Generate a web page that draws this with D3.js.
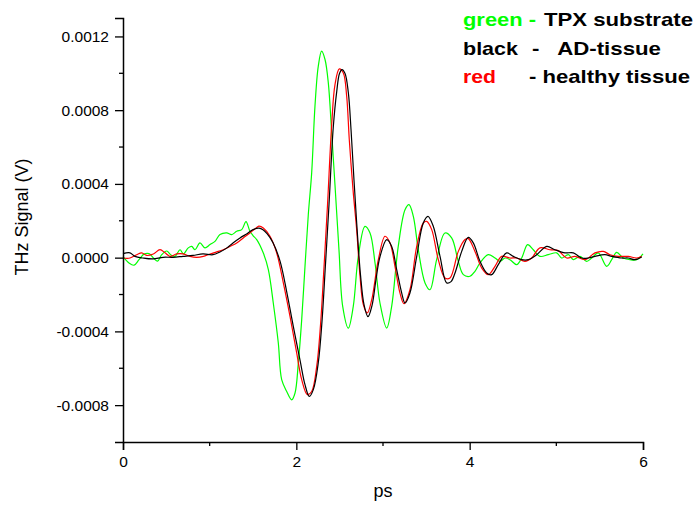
<!DOCTYPE html>
<html lang="en">
	<head>
		<meta charset="utf-8">
		<title>THz Signal - TPX, AD and healthy tissue</title>
		<script src="https://d3js.org/d3.v7.min.js"></script>
		<style type="text/css">
			body {
				margin: 0;
				background: #fff;
			}
			text {
				font-family: "Liberation Sans", Arial, sans-serif;
			}
		</style>
	</head>
	<body>
		<script type="text/javascript">
			//Data: [time (ps), signal (V)]
			var tpxSignal = [
				[0.000, 0.000005], [0.069, -0.000029], [0.127, -0.000041], [0.185, -0.000011], [0.242, 0.000019],
				[0.300, 0.000022], [0.358, -0.000005], [0.398, -0.000019], [0.447, 0.000016], [0.504, 0.000036],
				[0.554, 0.000014], [0.600, 0.000007], [0.658, 0.000043], [0.696, 0.000020], [0.753, 0.000053],
				[0.793, 0.000061], [0.831, 0.000043], [0.888, 0.000080], [0.946, 0.000053], [1.004, 0.000071],
				[1.061, 0.000088], [1.119, 0.000125], [1.196, 0.000134], [1.254, 0.000125], [1.312, 0.000143],
				[1.370, 0.000152], [1.419, 0.000195], [1.465, 0.000143], [1.500, 0.000120], [1.543, 0.000098],
				[1.619, 0.000025], [1.677, -0.000065], [1.734, -0.000246], [1.792, -0.000463],
				[1.831, -0.000662], [1.889, -0.000726], [1.946, -0.000771], [1.985, -0.000734], [2.023, -0.000571],
				[2.062, -0.000336], [2.100, -0.000047], [2.138, 0.000233], [2.177, 0.000460], [2.215, 0.000821],
				[2.253, 0.001038], [2.292, 0.001120], [2.331, 0.001075], [2.369, 0.000948], [2.408, 0.000677],
				[2.446, 0.000394], [2.492, 0.000043], [2.535, -0.000264], [2.600, -0.000382], [2.657, -0.000264],
				[2.715, 0.000007], [2.792, 0.000170], [2.850, 0.000134], [2.908, -0.000029], [2.965, -0.000246],
				[3.043, -0.000382], [3.100, -0.000264], [3.176, 0.000061], [3.254, 0.000260], [3.300, 0.000288],
				[3.350, 0.000224], [3.407, 0.000043], [3.485, -0.000137], [3.542, -0.000174], [3.619, -0.000011],
				[3.715, 0.000134], [3.792, 0.000107], [3.869, -0.000020], [3.927, -0.000092], [4.004, -0.000101],
				[4.061, -0.000074], [4.119, -0.000029], [4.215, 0.000016], [4.292, -0.000002], [4.350, -0.000020],
				[4.408, -0.000002], [4.465, -0.000011], [4.542, -0.000038], [4.600, -0.000002], [4.669, 0.000071],
				[4.734, 0.000043], [4.811, 0.000007], [4.907, 0.000016], [5.004, 0.000026], [5.061, -0.000002],
				[5.138, 0.000016], [5.196, -0.000011], [5.273, 0.000007], [5.350, -0.000020], [5.408, -0.000002],
				[5.484, 0.000026], [5.581, -0.000047], [5.639, -0.000011], [5.696, 0.000029], [5.773, -0.000002],
				[5.850, -0.000011], [5.927, -0.000011], [6.000, 0.000020]
			];

			var adSignal = [
				[0.000, 0.000022], [0.081, 0.000026], [0.138, 0.000007], [0.231, -0.000002], [0.346, -0.000007],
				[0.462, 0.000002], [0.577, 0.000002], [0.692, 0.000007], [0.808, 0.000012], [0.923, 0.000020],
				[1.038, 0.000016], [1.119, 0.000031], [1.200, 0.000053], [1.269, 0.000080], [1.350, 0.000107],
				[1.431, 0.000130], [1.500, 0.000152], [1.569, 0.000160], [1.615, 0.000152], [1.662, 0.000130],
				[1.731, 0.000081], [1.812, -0.000019], [1.889, -0.000185], [1.965, -0.000373], [2.042, -0.000554],
				[2.100, -0.000689], [2.150, -0.000753], [2.196, -0.000716], [2.253, -0.000571], [2.296, -0.000347],
				[2.336, -0.000038], [2.377, 0.000288], [2.426, 0.000706], [2.466, 0.000901], [2.498, 0.000999],
				[2.527, 0.001020], [2.562, 0.000999], [2.600, 0.000895], [2.631, 0.000695], [2.665, 0.000423],
				[2.700, 0.000163], [2.740, -0.000092], [2.781, -0.000255], [2.827, -0.000320], [2.873, -0.000260],
				[2.919, -0.000119], [2.965, 0.000005], [3.043, 0.000098], [3.100, 0.000061], [3.158, -0.000065],
				[3.216, -0.000192], [3.254, -0.000246], [3.311, -0.000192], [3.389, 0.000007], [3.465, 0.000188],
				[3.519, 0.000224], [3.580, 0.000170], [3.658, 0.000007], [3.735, -0.000137], [3.785, -0.000130],
				[3.831, -0.000083], [3.908, 0.000034], [3.984, 0.000110], [4.042, 0.000080], [4.119, -0.000020],
				[4.196, -0.000083], [4.254, -0.000092], [4.330, -0.000038], [4.427, 0.000026], [4.503, 0.000007],
				[4.600, -0.000011], [4.677, -0.000011], [4.773, 0.000016], [4.889, 0.000061], [4.984, 0.000043],
				[5.100, 0.000026], [5.196, 0.000026], [5.292, -0.000002], [5.369, -0.000002], [5.446, 0.000007],
				[5.561, 0.000016], [5.639, 0.000007], [5.754, -0.000002], [5.830, -0.000002], [5.907, -0.000011],
				[5.985, 0.000004]
			];

			var healthySignal = [
				[0.000, -0.000002], [0.081, -0.000002], [0.158, 0.000016], [0.216, 0.000026], [0.273, 0.000012],
				[0.350, 0.000020], [0.427, 0.000043], [0.485, 0.000026], [0.542, 0.000007], [0.620, 0.000020],
				[0.696, 0.000020], [0.773, 0.000007], [0.850, 0.000002], [0.927, 0.000007], [1.004, 0.000020],
				[1.081, 0.000031], [1.157, 0.000043], [1.235, 0.000061], [1.312, 0.000080], [1.388, 0.000107],
				[1.465, 0.000134], [1.543, 0.000164], [1.569, 0.000171], [1.619, 0.000161], [1.696, 0.000116],
				[1.773, 0.000026], [1.850, -0.000137], [1.927, -0.000319], [2.004, -0.000517], [2.062, -0.000662],
				[2.127, -0.000743], [2.177, -0.000726], [2.235, -0.000590], [2.279, -0.000364], [2.319, -0.000054],
				[2.360, 0.000288], [2.408, 0.000722], [2.446, 0.000939], [2.496, 0.001024], [2.542, 0.001002],
				[2.581, 0.000875], [2.611, 0.000640], [2.654, 0.000369], [2.696, 0.000152], [2.735, -0.000101],
				[2.773, -0.000255], [2.819, -0.000300], [2.870, -0.000228], [2.946, -0.000011], [3.023, 0.000116],
				[3.081, 0.000080], [3.138, -0.000047], [3.196, -0.000192], [3.242, -0.000250], [3.311, -0.000174],
				[3.389, 0.000061], [3.465, 0.000188], [3.504, 0.000197], [3.562, 0.000152], [3.638, -0.000011],
				[3.715, -0.000110], [3.773, -0.000110], [3.869, 0.000034], [3.946, 0.000098], [3.984, 0.000103],
				[4.061, 0.000034], [4.139, -0.000056], [4.215, -0.000092], [4.292, -0.000047], [4.369, 0.000007],
				[4.465, -0.000002], [4.542, -0.000002], [4.638, -0.000020], [4.715, -0.000002], [4.811, 0.000053],
				[4.927, 0.000043], [5.023, 0.000038], [5.119, -0.000002], [5.215, 0.000007], [5.330, -0.000011],
				[5.446, 0.000026], [5.542, 0.000034], [5.619, 0.000016], [5.715, 0.000007], [5.830, 0.000007],
				[5.927, -0.000002], [5.985, 0.000007]
			];

			//Axis ticks
			var xMajorTicks = [0, 2, 4, 6];
			var xMinorTicks = [1, 3, 5];
			var yMajorTicks = [-0.0008, -0.0004, 0, 0.0004, 0.0008, 0.0012];
			var yMinorTicks = [-0.0006, -0.0002, 0.0002, 0.0006, 0.0010];

			//Legend lines
			var legendKeys = ["green -", "black", "red"];
			var legendLabels = ["TPX substrate", "-   AD-tissue", "- healthy tissue"];
			var legendColors = ["#00ff00", "#000000", "#ff0000"];

			//Width and height
			var w = 700;
			var h = 508;

			var x = d3.scaleLinear()
				.domain([0, 6])
				.range([123, 643]);

			var y = d3.scaleLinear()
				.domain([-0.001, 0.0013])
				.range([442, 18]);

			var svg = d3.select("body")
				.append("svg")
				.attr("width", w)
				.attr("height", h);

			//Lines
			var line = d3.line()
				.x(function(d) { return x(d[0]); })
				.y(function(d) { return y(d[1]); })
				.curve(d3.curveCatmullRom.alpha(0.5));

			var series = [
				{ data: tpxSignal, color: "#00ff00" },
				{ data: healthySignal, color: "#ff0000" },
				{ data: adSignal, color: "#000000" }
			];

			svg.selectAll("path.trace")
				.data(series)
				.enter()
				.append("path")
				.attr("class", "trace")
				.attr("d", function(d) { return line(d.data); })
				.attr("fill", "none")
				.attr("stroke", function(d) { return d.color; })
				.attr("stroke-width", 1.2);

			//X axis
			var xAxis = svg.append("g")
				.attr("transform", "translate(0,442)");

			xAxis.call(d3.axisBottom(x)
				.tickValues(xMajorTicks)
				.tickSize(8)
				.tickPadding(6)
				.tickFormat(d3.format("d")));

			xAxis.selectAll(".minor")
				.data(xMinorTicks)
				.enter()
				.append("line")
				.attr("class", "minor")
				.attr("x1", function(d) { return x(d); })
				.attr("x2", function(d) { return x(d); })
				.attr("y1", 0)
				.attr("y2", 4)
				.attr("stroke", "#000");

			//Y axis
			var yAxis = svg.append("g")
				.attr("transform", "translate(123,0)");

			yAxis.call(d3.axisLeft(y)
				.tickValues(yMajorTicks)
				.tickSize(8)
				.tickPadding(6)
				.tickFormat(function(d) { return d.toFixed(4); }));

			yAxis.selectAll(".minor")
				.data(yMinorTicks)
				.enter()
				.append("line")
				.attr("class", "minor")
				.attr("x1", 0)
				.attr("x2", -4)
				.attr("y1", function(d) { return y(d); })
				.attr("y2", function(d) { return y(d); })
				.attr("stroke", "#000");

			svg.selectAll(".domain")
				.attr("stroke-width", 1.5);

			svg.selectAll(".tick line, .minor")
				.attr("stroke-width", 1.3);

			svg.selectAll(".tick text")
				.attr("font-size", "15.5px")
				.attr("font-family", "'Liberation Sans', Arial, sans-serif")
				.attr("fill", "#000");

			//Axis titles
			svg.append("text")
				.attr("x", 383)
				.attr("y", 497)
				.attr("text-anchor", "middle")
				.attr("font-size", "18px")
				.text("ps");

			svg.append("text")
				.attr("transform", "translate(28,217) rotate(-90)")
				.attr("text-anchor", "middle")
				.attr("font-size", "18px")
				.text("THz Signal (V)");

			//Legend
			var legendY = [26, 54.5, 83];
			var keyWidths = [73, 55, 33];
			var labelX = [544, 532, 529];
			var labelWidths = [149, 129, 161];

			var legend = svg.append("g")
				.attr("font-weight", "bold")
				.attr("font-size", "19px");

			legend.selectAll("text.key")
				.data(legendKeys)
				.enter()
				.append("text")
				.attr("class", "key")
				.attr("x", 463)
				.attr("y", function(d, i) { return legendY[i]; })
				.attr("fill", function(d, i) { return legendColors[i]; })
				.attr("textLength", function(d, i) { return keyWidths[i]; })
				.attr("lengthAdjust", "spacingAndGlyphs")
				.text(function(d) { return d; });

			legend.selectAll("text.label")
				.data(legendLabels)
				.enter()
				.append("text")
				.attr("class", "label")
				.attr("x", function(d, i) { return labelX[i]; })
				.attr("y", function(d, i) { return legendY[i]; })
				.attr("fill", "#000")
				.attr("textLength", function(d, i) { return labelWidths[i]; })
				.attr("lengthAdjust", "spacingAndGlyphs")
				.attr("xml:space", "preserve")
				.style("white-space", "pre")
				.text(function(d) { return d; });

		</script>
	</body>
</html>
